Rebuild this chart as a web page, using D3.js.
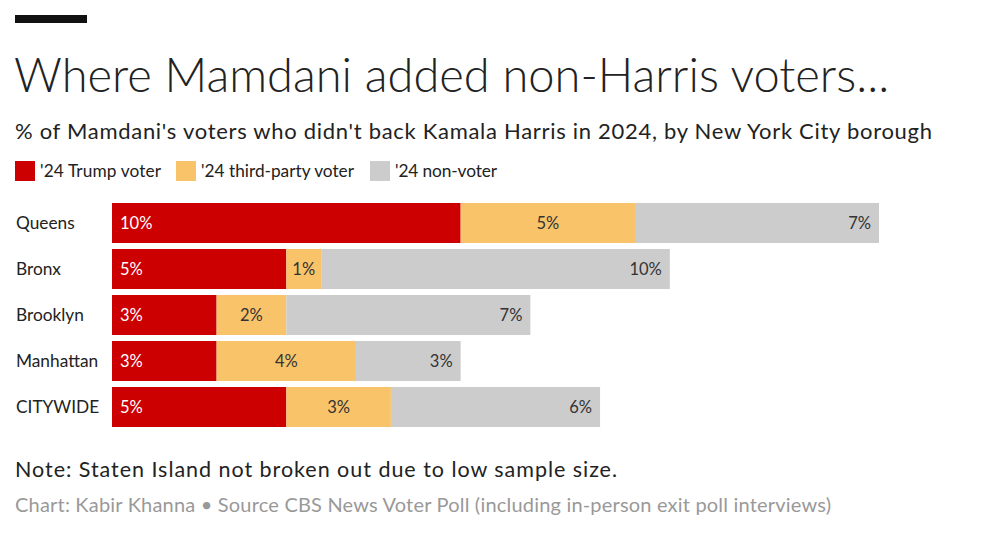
<!DOCTYPE html>
<html>
<head>
<meta charset="utf-8">
<script src="https://cdn.jsdelivr.net/npm/d3@7"></script>
<style>
  html, body { margin: 0; padding: 0; background: #fff; }
  svg { display: block; }
</style>
</head>
<body>
<svg id="chart" width="1000" height="534"></svg>
<script>
const boroughs = ["Queens", "Bronx", "Brooklyn", "Manhattan", "CITYWIDE"];
const trumpVoter = [10, 5, 3, 3, 5];
const thirdPartyVoter = [5, 1, 2, 4, 3];
const nonVoter = [7, 10, 7, 3, 6];
const seriesNames = ["'24 Trump voter", "'24 third-party voter", "'24 non-voter"];
const seriesColors = ["#cc0000", "#f9c36a", "#cccccc"];

const titleText = "Where Mamdani added non-Harris voters...";
const subtitleText = "% of Mamdani's voters who didn't back Kamala Harris in 2024, by New York City borough";
const noteText = "Note: Staten Island not broken out due to low sample size.";
const sourceText = "Chart: Kabir Khanna \u2022 Source CBS News Voter Poll (including in-person exit poll interviews)";

const svg = d3.select("#chart");
const font = "Lato, 'Noto Sans', sans-serif";

// top black bar
svg.append("rect").attr("x", 15).attr("y", 15).attr("width", 72).attr("height", 8).attr("fill", "#111");

svg.append("text").attr("x", 14).attr("y", 92)
  .attr("font-family", font).attr("font-weight", 300).attr("font-size", 47)
  .attr("fill", "#222").text(titleText);

svg.append("text").attr("x", 15).attr("y", 139)
  .attr("font-family", font).attr("font-size", 22)
  .attr("textLength", 917).attr("lengthAdjust", "spacing")
  .attr("fill", "#222").text(subtitleText);

// legend
const legendX = [15, 176, 370];
const legendW = [121, 153, 102];
seriesNames.forEach((n, i) => {
  const g = svg.append("g").attr("transform", `translate(${legendX[i]},161)`);
  g.append("rect").attr("width", 20).attr("height", 20).attr("fill", seriesColors[i]);
  g.append("text").attr("x", 25).attr("y", 16)
    .attr("font-family", font).attr("font-size", 17.3)
    .attr("textLength", legendW[i]).attr("lengthAdjust", "spacing")
    .attr("fill", "#222").text(n);
});

const data = boroughs.map((b, i) => ({ borough: b, trump: trumpVoter[i], third: thirdPartyVoter[i], non: nonVoter[i] }));
const keys = ["trump", "third", "non"];
const stack = d3.stack().keys(keys)(data);

const x = d3.scaleLinear().domain([0, 22]).range([112, 879]);
const y = d3.scaleBand().domain(boroughs).range([203, 427]).paddingInner(6 / 46).paddingOuter(0);

// category labels
svg.append("g").selectAll("text").data(boroughs).join("text")
  .attr("x", 16).attr("y", d => y(d) + y.bandwidth() / 2)
  .attr("dy", "0.35em")
  .attr("font-family", font).attr("font-size", 17.3).attr("fill", "#222")
  .text(d => d);

stack.forEach((layer, li) => {
  const g = svg.append("g");
  g.selectAll("rect").data(layer).join("rect")
    .attr("x", d => x(d[0]))
    .attr("width", d => x(d[1]) - x(d[0]))
    .attr("y", d => y(d.data.borough))
    .attr("height", y.bandwidth())
    .attr("fill", seriesColors[li]);
  g.selectAll("text").data(layer).join("text")
    .attr("x", d => li === 0 ? x(d[0]) + 8 : li === 1 ? (x(d[0]) + x(d[1])) / 2 : x(d[1]) - 8)
    .attr("text-anchor", li === 0 ? "start" : li === 1 ? "middle" : "end")
    .attr("y", d => y(d.data.borough) + y.bandwidth() / 2)
    .attr("dy", "0.35em")
    .attr("font-family", font).attr("font-size", 16.5)
    .attr("fill", li === 0 ? "#fff" : "#333")
    .text(d => (d[1] - d[0]) + "%");
});

svg.append("text").attr("x", 15).attr("y", 477)
  .attr("font-family", font).attr("font-size", 21.5)
  .attr("textLength", 602).attr("lengthAdjust", "spacing")
  .attr("fill", "#222").text(noteText);

svg.append("text").attr("x", 15).attr("y", 512)
  .attr("font-family", font).attr("font-size", 20)
  .attr("textLength", 816).attr("lengthAdjust", "spacing")
  .attr("fill", "#999").text(sourceText);
</script>
</body>
</html>
